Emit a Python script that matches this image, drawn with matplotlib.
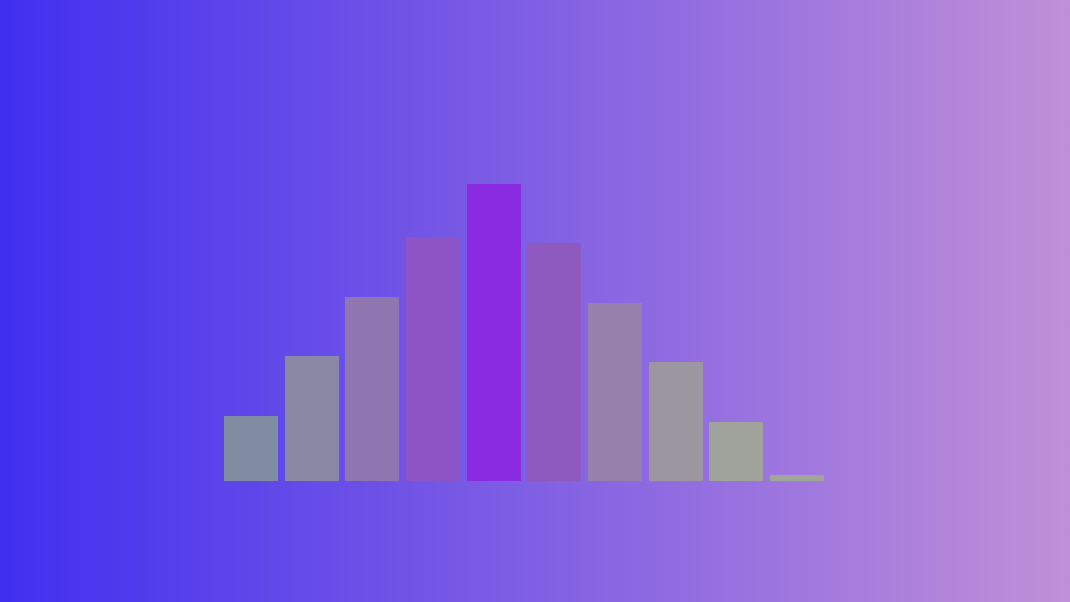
import numpy as np
import matplotlib
matplotlib.use("Agg")
import matplotlib.pyplot as plt
from matplotlib.colors import LinearSegmentedColormap

categories = list(range(10))
values = [11, 21, 31, 41, 50, 40, 30, 20, 10, 1]
bar_colors = ["#808ca2", "#8a88a4", "#9076b0", "#8c54c4", "#8a2be2",
              "#8e5ac0", "#9880ac", "#9c96a0", "#a0a39c", "#a0a69a"]

fig = plt.figure(figsize=(10.7, 6.02), dpi=100)
ax = fig.add_axes([0, 0, 1, 1])

x0, x1 = -4.137, 13.499
y0, y1 = -20.37, 80.98
cmap = LinearSegmentedColormap.from_list("bg", ["#4130f0", "#c090d8"])
grad = np.linspace(0, 1, 512).reshape(1, -1)
ax.imshow(grad, cmap=cmap, extent=[x0, x1, y0, y1], aspect="auto", zorder=0)

ax.bar(categories, values, width=0.890, color=bar_colors, zorder=2)
ax.set_xlim(x0, x1)
ax.set_ylim(y0, y1)
ax.axis("off")

fig.savefig("out.png", dpi=100)
